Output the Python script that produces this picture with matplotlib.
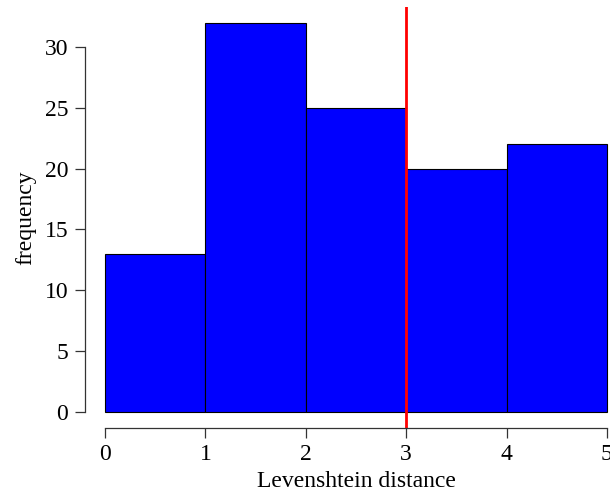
import numpy as np
import matplotlib
matplotlib.use("Agg")
import matplotlib.pyplot as plt

# histogram of Levenshtein distances
bin_edges = [0, 1, 2, 3, 4, 5]
counts = [13, 32, 25, 20, 22]
cutoff = 3
x_ticks = [0, 1, 2, 3, 4, 5]
y_ticks = [0, 5, 10, 15, 20, 25, 30]

plt.rcParams['font.family'] = ['Liberation Serif', 'DejaVu Serif']

W, H = 610, 496
fig = plt.figure(figsize=(W / 100, H / 100), dpi=100)
# R-style plot region (extends past the right edge like the original)
ax = fig.add_axes([85 / W, (H - 427.5) / H, (627 - 85) / W, (427.5 - 7) / H])

ax.hist(bin_edges[:-1], bins=bin_edges, weights=counts,
        color='#0000ff', edgecolor='black', linewidth=0.8)
ax.axvline(cutoff, color='#ff0000', linewidth=2)

ax.set_xlim(-0.2, 5.2)
ax.set_ylim(-1.28, 33.28)

for s in ['top', 'right']:
    ax.spines[s].set_visible(False)
ax.spines['left'].set_bounds(0, 30)
ax.spines['bottom'].set_bounds(0, 5)
for s in ['left', 'bottom']:
    ax.spines[s].set_color('#333333')
    ax.spines[s].set_linewidth(0.9)

ax.set_xticks(x_ticks)
ax.set_yticks(y_ticks)
ax.tick_params(direction='out', length=7, width=0.9, color='#333333', labelsize=17)
ax.tick_params(axis='x', pad=5)
ax.tick_params(axis='y', pad=5)

ax.set_xlabel('Levenshtein distance', fontsize=17, labelpad=4)
ax.set_ylabel('frequency', fontsize=17, labelpad=6)

fig.savefig('out.png', dpi=100)
